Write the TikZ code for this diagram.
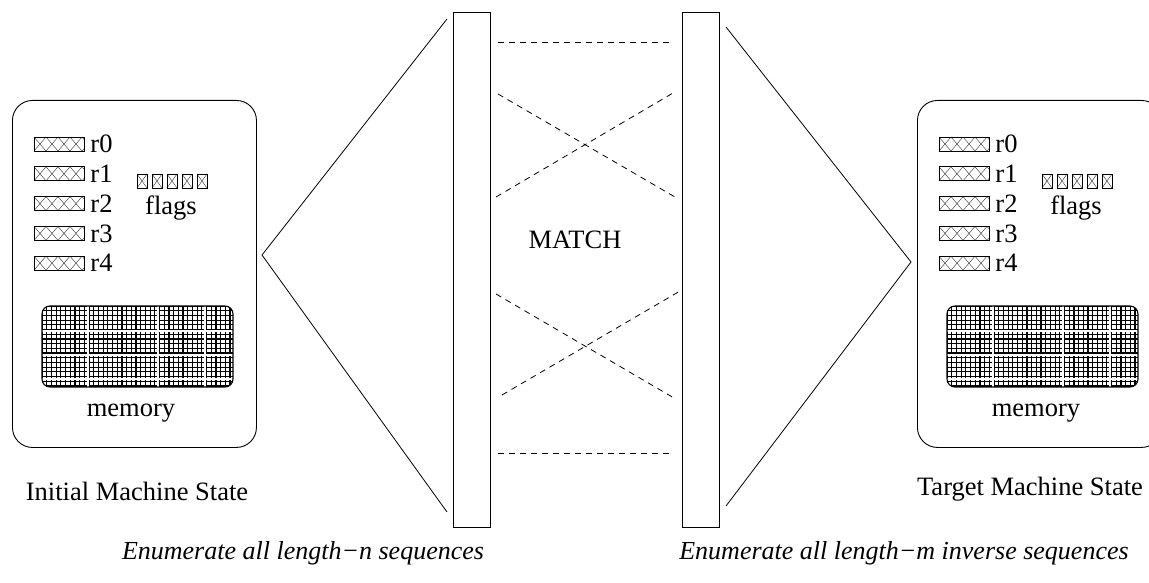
\documentclass[tikz,border=0pt]{standalone}
\usepackage{fontspec}
\setmainfont{Liberation Serif}
\begin{document}
\begin{tikzpicture}[x=1pt,y=-1pt,line width=0.9pt,
  txt/.style={font=\fontsize{26.5}{31}\selectfont,inner sep=0pt},
  itxt/.style={font=\fontsize{26}{31}\selectfont\itshape,inner sep=0pt},
  statebox/.style={draw,rounded corners=20pt,minimum width=244pt,minimum height=347pt,anchor=north west,inner sep=0pt},
  barbox/.style={draw,minimum width=37pt,minimum height=515pt,anchor=north west,inner sep=0pt},
  hatch/.style={line width=0.45pt,black!75},
  link/.style={draw,dash pattern=on 6pt off 5pt,line width=0.8pt},
  edge/.style={draw,line width=0.8pt}]
\useasboundingbox (0,0) rectangle (1149,583);

% ---------- machine states ----------
\foreach \dx/\nm in {0/L,905/R}{
\begin{scope}[shift={(\dx,0)}]
  \node[statebox] (\nm-state) at (12,100) {};
  % registers
  \foreach \i in {0,...,4}{
    \pgfmathsetmacro{\yy}{144+29.8*\i}
    \begin{scope}
      \clip (34,\yy-7) rectangle (84,\yy+7);
      \foreach \xx in {22,34,...,94}{
        \draw[hatch] (\xx,\yy-7) -- (\xx+12,\yy+7);
        \draw[hatch] (\xx,\yy+7) -- (\xx+12,\yy-7);
      }
    \end{scope}
    \draw[line width=0.6pt] (34,\yy-7) rectangle (84,\yy+7);
    \node[txt,anchor=west] (\nm-r\i) at (90,\yy) {r\i};
  }
  % flags
  \foreach \k in {0,...,4}{
    \pgfmathsetmacro{\fx}{137+15*\k}
    \draw[hatch] (\fx,174) -- (\fx+10,188);
    \draw[hatch] (\fx,188) -- (\fx+10,174);
    \draw[line width=0.6pt] (\fx,174) rectangle (\fx+10,188);
  }
  \node[txt,anchor=base] (\nm-flags) at (171,214) {flags};
  % memory
  \begin{scope}
    \clip[rounded corners=8pt] (42,306) rectangle (233,387);
    \foreach \gx in {42,46.7,...,235}{\draw[line width=1.2pt] (\gx,306) -- (\gx,387);}
    \foreach \gy in {306,310.7,...,389}{\draw[line width=1.2pt] (42,\gy) -- (233,\gy);}
    \foreach \wx in {88,158,205}{\draw[white,line width=1.3pt] (\wx,306) -- (\wx,387);}
    \foreach \wy in {331,355,379}{\draw[white,line width=1.3pt] (42,\wy) -- (233,\wy);}
  \end{scope}
  \draw[line width=1.1pt,rounded corners=8pt] (42,306) rectangle (233,387);
  \node[txt,anchor=base] (\nm-mem) at (131,416) {memory};
\end{scope}
}

\node[txt,anchor=base] (initlbl) at (137,500) {Initial Machine State};
\node[txt,anchor=base] (targlbl) at (1030,495) {Target Machine State};

% ---------- bars ----------
\node[barbox] (lbar) at (453,12) {};
\node[barbox] (rbar) at (682,12) {};

% ---------- fans ----------
\coordinate (lt) at (447,19);
\coordinate (lapex) at (262,255);
\coordinate (lb) at (447,512);
\coordinate (rt) at (726,27);
\coordinate (rapex) at (911,262);
\coordinate (rb) at (726,506);
\draw[edge] (lt) -- (lapex) -- (lb);
\draw[edge] (rt) -- (rapex) -- (rb);

% ---------- matching links ----------
\coordinate (a1) at (498,42);  \coordinate (b1) at (669,42);
\coordinate (a2) at (498,94);  \coordinate (b2) at (675,197);
\coordinate (a3) at (496,197); \coordinate (b3) at (673,93);
\coordinate (a4) at (496,294); \coordinate (b4) at (674,398);
\coordinate (a5) at (502,395); \coordinate (b5) at (680,291);
\coordinate (a6) at (498,453); \coordinate (b6) at (669,453);
\foreach \j in {1,...,6}{\draw[link] (a\j) -- (b\j);}

\node[txt,anchor=base] (match) at (575,248) {MATCH};

% ---------- captions ----------
\node[itxt,anchor=base] (lcap) at (303,559) {Enumerate all length\textminus{}n sequences};
\node[itxt,anchor=base] (rcap) at (904,559) {Enumerate all length\textminus{}m inverse sequences};
\end{tikzpicture}
\end{document}
